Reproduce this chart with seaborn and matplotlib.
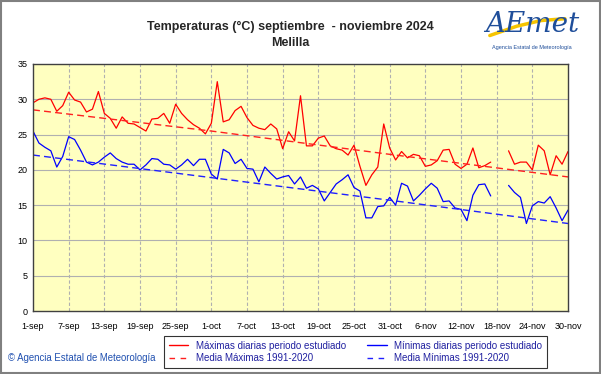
import numpy as np
import pandas as pd
import matplotlib
matplotlib.use("Agg")
import matplotlib.pyplot as plt
from matplotlib.lines import Line2D
from matplotlib.patches import Rectangle
import seaborn as sns

# Daily data, 1-sep .. 30-nov 2024 (NaN = missing days)
dias = pd.date_range("2024-09-01", "2024-11-30", freq="D")

t_max = [29.5, 30.0, 30.2, 30.0, 28.3, 29.1, 31.0, 29.9, 29.6, 28.2,
         28.6, 31.1, 28.0, 27.3, 25.9, 27.5, 26.6, 26.5, 26.0, 25.5,
         27.2, 27.3, 28.0, 26.6, 29.3, 28.0, 27.1, 26.4, 25.9, 25.1,
         26.6, 32.5, 26.8, 27.1, 28.4, 29.0, 27.4, 26.3, 25.9, 25.7,
         26.5, 25.8, 23.0, 25.4, 24.1, 30.5, 23.4, 23.4, 24.5, 24.8,
         23.4, 23.0, 22.8, 22.1, 23.5, 20.5, 17.8, 19.3, 20.4, 26.5,
         23.1, 21.4, 22.6, 21.7, 22.2, 22.0, 20.5, 20.7, 21.3, 22.8,
         22.9, 20.8, 20.2, 20.8, 23.1, 20.3, 20.6, 21.1, np.nan, np.nan,
         22.7, 20.8, 21.1, 21.1, 20.0, 23.5, 22.7, 19.3, 22.0, 20.8,
         22.6]

t_min = [25.5, 23.8, 23.2, 22.7, 20.4, 21.9, 24.7, 24.3, 22.8, 21.1,
         20.7, 21.1, 21.8, 22.4, 21.6, 21.1, 20.8, 20.8, 20.0, 20.7,
         21.6, 21.5, 20.8, 20.7, 20.1, 20.7, 21.5, 20.6, 21.5, 21.5,
         19.4, 18.7, 22.9, 22.4, 20.9, 21.5, 20.2, 20.1, 18.3, 20.4,
         19.5, 18.7, 19.0, 19.2, 18.0, 19.0, 17.4, 17.8, 17.3, 15.6,
         16.8, 18.0, 18.6, 19.3, 17.5, 17.0, 13.2, 13.2, 14.8, 14.9,
         16.1, 15.0, 18.1, 17.7, 15.6, 16.4, 17.3, 18.1, 17.4, 15.5,
         15.6, 14.6, 14.4, 12.8, 16.4, 17.9, 18.0, 16.3, np.nan, np.nan,
         17.8, 16.8, 16.1, 12.4, 14.9, 15.5, 15.3, 16.2, 14.6, 12.8,
         14.3]

# 1991-2020 normals, read at 1-sep, 1-oct, 31-oct, 30-nov
fechas_media = pd.to_datetime(["2024-09-01", "2024-10-01", "2024-10-31", "2024-11-30"])
media_max = [28.5, 25.5, 22.2, 19.0]
media_min = [22.1, 18.9, 15.7, 12.4]

etiquetas_x = ["1-sep", "7-sep", "13-sep", "19-sep", "25-sep", "1-oct", "7-oct",
               "13-oct", "19-oct", "25-oct", "31-oct", "6-nov", "12-nov",
               "18-nov", "24-nov", "30-nov"]

df = pd.DataFrame({"fecha": dias, "tmax": t_max, "tmin": t_min})
# split into continuous stretches so the gap stays open
df["tramo"] = df["tmax"].isna().cumsum()
df_ok = df.dropna()
df_media = pd.DataFrame({"fecha": fechas_media, "mmax": media_max, "mmin": media_min})

sns.set_theme(style="white")
plt.rcParams["font.family"] = ["Liberation Sans", "DejaVu Sans"]

fig = plt.figure(figsize=(6.01, 3.74), dpi=100)
fig.patch.set_facecolor("white")
ax = fig.add_axes([0.0549, 0.1684, 0.8902, 0.6605])
ax.set_facecolor("#FFFFC0")

# grid
for v in range(5, 35, 5):
    ax.axhline(v, color="#B0B0B0", lw=0.8, zorder=0)
for d in dias[::6][1:-1]:
    ax.axvline(d, color="#B0B0B0", lw=0.8, ls=(0, (3, 2)), zorder=0)

sns.lineplot(data=df_ok, x="fecha", y="tmax", units="tramo", estimator=None,
             color="#FF0000", lw=0.9, ax=ax)
sns.lineplot(data=df_ok, x="fecha", y="tmin", units="tramo", estimator=None,
             color="#0000FF", lw=0.9, ax=ax)
sns.lineplot(data=df_media, x="fecha", y="mmax", color="#FF2020", lw=1.0,
             ax=ax, linestyle=(0, (5, 3)))
sns.lineplot(data=df_media, x="fecha", y="mmin", color="#2020FF", lw=1.0,
             ax=ax, linestyle=(0, (5, 3)))

ax.set_xlim(dias[0], dias[-1])
ax.set_ylim(0, 35)
ax.set_yticks(range(0, 36, 5))
ax.set_xticks(dias[::6])
ax.set_xticklabels(etiquetas_x)
ax.set_xlabel("")
ax.set_ylabel("")
ax.tick_params(axis="both", length=0, labelsize=6.5, colors="black")
ax.tick_params(axis="x", pad=8)
ax.tick_params(axis="y", pad=4)
for s in ax.spines.values():
    s.set_color("#404040")
    s.set_linewidth(1.0)

fig.text(0.483, 0.928, "Temperaturas (°C) septiembre  - noviembre 2024",
         ha="center", va="center", fontsize=9, fontweight="bold")
fig.text(0.483, 0.886, "Melilla", ha="center", va="center",
         fontsize=9, fontweight="bold")

# logo
fig.add_artist(Line2D([0.815, 0.86, 0.9, 0.94], [0.905, 0.93, 0.945, 0.95],
                      transform=fig.transFigure, color="#F5C400", lw=2.5))
fig.text(0.885, 0.935, "AEmet", ha="center", va="center", fontsize=20,
         style="italic", color="#1F4E9A", family="DejaVu Serif")
fig.text(0.885, 0.873, "Agencia Estatal de Meteorología", ha="center",
         va="center", fontsize=4, color="#1F4E9A")

fig.text(0.013, 0.043, "© Agencia Estatal de Meteorología", ha="left",
         va="center", fontsize=6.9, color="#2050B0")

handles = [
    Line2D([], [], color="#FF0000", lw=1.0),
    Line2D([], [], color="#FF2020", lw=1.0, ls=(0, (4, 4))),
    Line2D([], [], color="#0000FF", lw=1.0),
    Line2D([], [], color="#2020FF", lw=1.0, ls=(0, (4, 4))),
]
labels = ["Máximas diarias periodo estudiado", "Media Máximas 1991-2020",
          "Mínimas diarias periodo estudiado", "Media Mínimas 1991-2020"]
leg = fig.legend(handles, labels, ncol=2, loc="center",
                 bbox_to_anchor=(0.5915, 0.059), fontsize=7.0, frameon=True,
                 fancybox=False, edgecolor="black", handlelength=2.0,
                 columnspacing=2.2, labelspacing=0.25, borderpad=0.45,
                 handletextpad=0.8)
leg.get_frame().set_linewidth(0.8)
for t in leg.get_texts():
    t.set_color("#2020A0")

fig.patches.append(Rectangle((0.002, 0.003), 0.996, 0.994, transform=fig.transFigure,
                             fill=False, edgecolor="#808080", lw=1.5))

fig.savefig("out.png", dpi=100)
